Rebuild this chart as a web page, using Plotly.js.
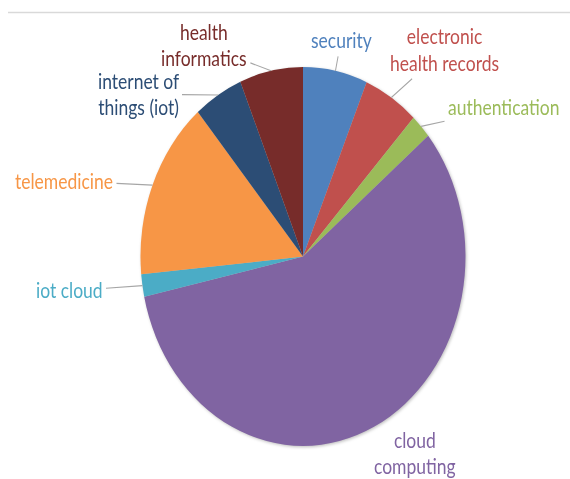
<!DOCTYPE html>
<html>
<head>
<meta charset="utf-8">
<script src="https://cdn.plot.ly/plotly-3.0.1.min.js"></script>
<style>
  html, body { margin: 0; padding: 0; background: #fff; overflow: hidden; }
  #wrap { width: 570px; height: 479px; position: relative; overflow: hidden; }
  #chart { width: 570px; height: 411px; transform-origin: 0 0; transform: scaleY(1.1655); }
  #chart .pielayer { filter: drop-shadow(1px 1px 1.5px rgba(0,0,0,0.25)); }
</style>
</head>
<body>
<div id="wrap"><div id="chart"></div></div>
<script>
// ---- data (share of topics, %) ----
const categories = ["security", "electronic<br>health records", "authentication", "cloud<br>computing",
                    "iot cloud", "telemedicine", "internet of<br>things (iot)", "health<br>informatics"];
const values = [6.4, 5.5, 2.1, 57.6, 1.9, 15.3, 4.9, 6.3];
const colors = ["#4F81BD", "#C0504D", "#9BBB59", "#8064A2", "#4BACC6", "#F79646", "#2C4D75", "#772C2A"];

// ---- layout geometry (unscaled px) ----
const W = 570, H = 411, S = 479 / 411;
const cx = 303, cy = 256.5 / S, R = 162.5;
// label centres (final image px)
const labelPos = [[341, 40], [444, 50], [504, 108], [415, 453], [69, 291], [64, 181], [138, 94], [204, 45]];

const total = values.reduce((a, b) => a + b, 0);
let cum = 0;
const annotations = categories.map((c, i) => {
  const mid = (cum + values[i] / 2) / total * 2 * Math.PI;
  cum += values[i];
  const tx = cx + R * Math.sin(mid);
  const ty = cy - R * Math.cos(mid);
  return {
    xref: 'paper', yref: 'paper',
    x: tx / W, y: 1 - ty / H,
    ax: labelPos[i][0] - tx, ay: labelPos[i][1] / S - ty,
    text: c, showarrow: true, arrowhead: 0, arrowwidth: 1, arrowcolor: '#a6a6a6',
    standoff: 0, startstandoff: 2,
    font: { family: 'Lato, sans-serif', size: 17.5, color: colors[i] },
    align: 'center'
  };
});

const trace = {
  type: 'pie',
  labels: categories,
  values: values,
  sort: false,
  direction: 'clockwise',
  rotation: 0,
  textinfo: 'none',
  hoverinfo: 'label+percent',
  marker: { colors: colors, line: { width: 0 } },
  domain: { x: [(cx - R) / W, (cx + R) / W], y: [1 - (cy + R) / H, 1 - (cy - R) / H] },
  showlegend: false
};

const layout = {
  width: W, height: H,
  margin: { l: 0, r: 0, t: 0, b: 0 },
  paper_bgcolor: '#ffffff',
  showlegend: false,
  annotations: annotations,
  shapes: [{ type: 'line', xref: 'paper', yref: 'paper', x0: 8 / W, x1: 1, y0: 1 - 12.5 / S / H, y1: 1 - 12.5 / S / H,
             line: { color: '#d9d9d9', width: 1.5 } }]
};

Plotly.newPlot('chart', [trace], layout, { displayModeBar: false, staticPlot: true });
</script>
</body>
</html>
